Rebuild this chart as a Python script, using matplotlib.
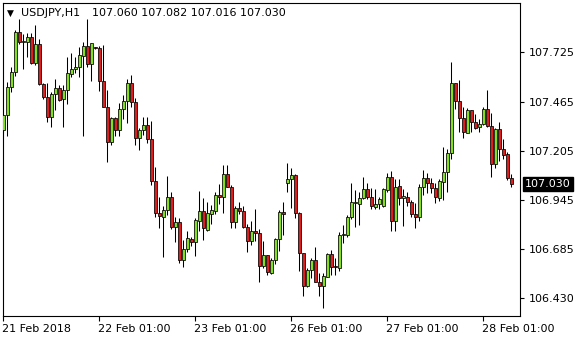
import matplotlib
matplotlib.use("Agg")
import matplotlib.pyplot as plt
import matplotlib.transforms as mtransforms
import numpy as np

# USDJPY H1 candles, 21 Feb 01:00 .. 28 Feb 08:00
opens = [107.315, 107.392, 107.540, 107.619, 107.830, 107.777, 107.781, 107.804, 107.670, 107.769,
         107.556, 107.487, 107.385, 107.503, 107.535, 107.477, 107.526, 107.610, 107.635, 107.646,
         107.707, 107.758, 107.661, 107.751, 107.748, 107.575, 107.438, 107.254, 107.380, 107.315,
         107.426, 107.468, 107.561, 107.464, 107.275, 107.315, 107.341, 107.266, 107.043, 106.875,
         106.854, 106.893, 106.963, 106.802, 106.828, 106.629, 106.686, 106.740, 106.722, 106.835,
         106.888, 106.788, 106.872, 106.889, 106.972, 106.960, 107.083, 107.016, 106.828, 106.902,
         106.889, 106.802, 106.730, 106.782, 106.770, 106.599, 106.656, 106.559, 106.626, 106.738,
         106.884, 107.034, 107.055, 107.078, 106.879, 106.664, 106.492, 106.577, 106.626, 106.515,
         106.492, 106.541, 106.661, 106.598, 106.585, 106.758, 106.758, 106.854, 106.932, 106.925,
         106.955, 107.002, 106.963, 106.907, 106.923, 106.911, 106.999, 107.065, 106.837, 107.021,
         106.955, 106.963, 106.934, 106.870, 106.854, 107.013, 107.060, 107.034, 107.011, 106.958,
         107.039, 107.095, 107.192, 107.561, 107.470, 107.377, 107.301, 107.420, 107.359, 107.329,
         107.345, 107.426, 107.338, 107.134, 107.319, 107.213, 107.187, 107.060]
highs = [107.399, 107.570, 107.649, 107.843, 107.899, 107.821, 107.825, 107.825, 107.869, 107.793,
         107.561, 107.561, 107.517, 107.582, 107.552, 107.552, 107.702, 107.719, 107.702, 107.755,
         107.781, 107.899, 107.776, 107.755, 107.758, 107.763, 107.526, 107.385, 107.385, 107.456,
         107.500, 107.582, 107.605, 107.482, 107.324, 107.382, 107.382, 107.363, 107.122, 106.963,
         106.911, 107.072, 106.990, 106.858, 106.849, 106.735, 106.779, 106.752, 106.849, 106.993,
         106.955, 106.937, 106.919, 106.990, 107.030, 107.130, 107.130, 107.025, 106.914, 106.934,
         106.914, 106.819, 106.835, 106.897, 106.791, 106.731, 106.656, 106.638, 106.747, 106.893,
         106.937, 107.139, 107.113, 107.080, 106.884, 106.664, 106.585, 106.638, 106.696, 106.562,
         106.562, 106.668, 106.682, 106.638, 106.774, 106.814, 106.867, 107.034, 106.999, 106.990,
         107.065, 107.037, 107.007, 107.002, 106.963, 107.007, 107.086, 107.099, 107.055, 107.057,
         107.004, 106.986, 106.946, 106.928, 107.030, 107.104, 107.086, 107.060, 107.034, 107.055,
         107.227, 107.213, 107.675, 107.565, 107.579, 107.438, 107.429, 107.422, 107.399, 107.371,
         107.438, 107.526, 107.403, 107.324, 107.357, 107.268, 107.201, 107.082]
lows = [107.297, 107.283, 107.517, 107.602, 107.767, 107.637, 107.702, 107.663, 107.658, 107.552,
        107.477, 107.359, 107.333, 107.420, 107.468, 107.333, 107.452, 107.596, 107.614, 107.596,
        107.283, 107.646, 107.575, 107.741, 107.523, 107.435, 107.148, 107.236, 107.283, 107.283,
        107.373, 107.350, 107.438, 107.236, 107.210, 107.289, 107.248, 107.025, 106.858, 106.796,
        106.647, 106.867, 106.791, 106.721, 106.612, 106.591, 106.673, 106.703, 106.650, 106.779,
        106.735, 106.779, 106.819, 106.872, 106.925, 106.879, 107.013, 106.796, 106.796, 106.872,
        106.796, 106.673, 106.708, 106.731, 106.510, 106.585, 106.547, 106.555, 106.608, 106.678,
        106.761, 106.990, 106.905, 106.849, 106.568, 106.436, 106.485, 106.533, 106.515, 106.436,
        106.374, 106.541, 106.550, 106.550, 106.568, 106.717, 106.752, 106.844, 106.805, 106.814,
        106.949, 106.949, 106.898, 106.898, 106.898, 106.907, 106.990, 106.779, 106.784, 106.919,
        106.810, 106.911, 106.854, 106.800, 106.832, 106.969, 106.984, 106.984, 106.932, 106.940,
        106.946, 106.990, 107.162, 107.424, 107.306, 107.271, 107.297, 107.306, 107.319, 107.306,
        107.341, 107.333, 107.069, 107.113, 107.153, 107.160, 107.051, 107.016]
closes = [107.394, 107.540, 107.619, 107.830, 107.781, 107.783, 107.804, 107.670, 107.769, 107.556,
          107.487, 107.385, 107.503, 107.535, 107.473, 107.526, 107.614, 107.635, 107.646, 107.711,
          107.758, 107.661, 107.772, 107.748, 107.575, 107.438, 107.254, 107.380, 107.315, 107.426,
          107.468, 107.561, 107.464, 107.275, 107.315, 107.341, 107.266, 107.043, 106.875, 106.861,
          106.893, 106.960, 106.802, 106.828, 106.629, 106.686, 106.747, 106.722, 106.840, 106.888,
          106.796, 106.875, 106.893, 106.972, 106.960, 107.083, 107.016, 106.828, 106.902, 106.889,
          106.802, 106.730, 106.782, 106.770, 106.599, 106.656, 106.564, 106.629, 106.738, 106.884,
          106.870, 107.055, 107.078, 106.875, 106.664, 106.492, 106.577, 106.626, 106.515, 106.492,
          106.545, 106.661, 106.594, 106.589, 106.761, 106.765, 106.854, 106.934, 106.937, 106.955,
          107.002, 106.963, 106.911, 106.923, 106.949, 107.002, 107.065, 106.837, 107.016, 106.955,
          106.967, 106.934, 106.870, 106.854, 107.016, 107.060, 107.034, 107.011, 106.960, 107.043,
          107.095, 107.192, 107.561, 107.470, 107.377, 107.303, 107.420, 107.359, 107.324, 107.345,
          107.426, 107.338, 107.134, 107.319, 107.213, 107.183, 107.060, 107.030]

symbol = "USDJPY,H1"
price_levels = [107.725, 107.465, 107.205, 106.945, 106.685, 106.430]
date_ticks = [0, 24, 48, 72, 96, 120]
date_labels = ["21 Feb 2018", "22 Feb 01:00", "23 Feb 01:00",
               "26 Feb 01:00", "27 Feb 01:00", "28 Feb 01:00"]

bull = "#84E01E"
bear = "#DC1E1E"

o = np.array(opens)
h = np.array(highs)
l = np.array(lows)
c = np.array(closes)
x = np.arange(len(o))

fig = plt.figure(figsize=(5.8, 3.4), dpi=100)
ax = fig.add_axes([3/580, 1 - 316/340, 517/580, 313/340])

# wicks then bodies
ax.vlines(x, l, h, color="black", linewidth=0.75, zorder=2)
cols = [bull if cc >= oo else bear for oo, cc in zip(o, c)]
ax.bar(x, np.abs(c - o), bottom=np.minimum(o, c), width=0.72, color=cols,
       edgecolor="black", linewidth=0.55, zorder=3)

ax.set_xlim(-0.1, 129.2)
ax.set_ylim(106.333, 107.985)

for sp in ax.spines.values():
    sp.set_linewidth(0.8)
    sp.set_color("black")

ax.yaxis.tick_right()
ax.set_yticks(price_levels)
ax.set_yticklabels(["%.3f" % v for v in price_levels])
ax.tick_params(axis="y", direction="out", length=3, width=0.8, pad=3, labelsize=8)

ax.set_xticks(date_ticks)
ax.set_xticklabels(date_labels, ha="left")
ax.tick_params(axis="x", direction="out", length=3.5, width=0.8, pad=2.5, labelsize=8)
off = mtransforms.ScaledTranslation(-1/100, 0, fig.dpi_scale_trans)
for lab in ax.get_xticklabels():
    lab.set_transform(lab.get_transform() + off)

# header line
fig.text(7/580, 1 - 16/340, "\u25bc", fontsize=6.5, va="baseline")
fig.text(21/580, 1 - 16/340, symbol, fontsize=8, va="baseline")
fig.text(92/580, 1 - 16/340, "%.3f %.3f %.3f %.3f" % (o[-1], h[-1], l[-1], c[-1]),
         fontsize=8, va="baseline")

# current price tag
trans = mtransforms.blended_transform_factory(ax.transAxes, ax.transData)
ax.text(1.0095, c[-1], "%.3f" % c[-1], transform=trans, ha="left", va="center",
        color="white", fontsize=8, clip_on=False,
        bbox=dict(boxstyle="square,pad=0.2", fc="black", ec="black"))

fig.savefig("out.png", dpi=100)
